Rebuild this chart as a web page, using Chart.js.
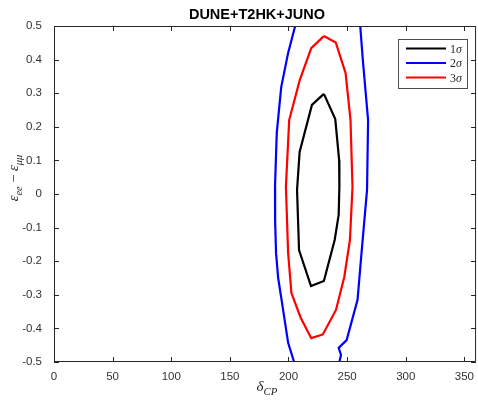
<!DOCTYPE html>
<html lang="en">
<head>
    <meta charset="UTF-8" />
    <title>DUNE+T2HK+JUNO</title>
    <style>
        html, body { margin: 0; padding: 0; overflow: hidden; background: #fff; }
        #wrap { width: 482px; height: 401px; }
    </style>
</head>
<body>
    <div id="wrap"><canvas id="contourChart" width="482" height="401"></canvas></div>

    <script src="https://cdn.jsdelivr.net/npm/chart.js@4.4.1/dist/chart.umd.min.js"></script>
    <script>
        // axis ticks
        const xTicks = [0, 50, 100, 150, 200, 250, 300, 350];
        const yTicks = [-0.5, -0.4, -0.3, -0.2, -0.1, 0, 0.1, 0.2, 0.3, 0.4, 0.5];

        // 1 sigma contour (closed)
        const sigma1Dcp = [230.2, 239.9, 243.2, 243.4, 242.8, 239.4, 230.2, 219.2, 209.0, 207.3, 209.5, 220.0, 230.2];
        const sigma1Eps = [0.298, 0.223, 0.101, 0.021, -0.062, -0.137, -0.259, -0.274, -0.167, 0.012, 0.125, 0.265, 0.298];

        // 2 sigma contour (open, left and right branch)
        const sigma2LeftDcp = [205.7, 199.7, 193.8, 190.0, 188.5, 188.6, 189.4, 191.2, 194.1, 199.7, 204.8];
        const sigma2LeftEps = [0.5, 0.420, 0.318, 0.182, 0.021, -0.080, -0.176, -0.250, -0.315, -0.443, -0.5];
        const sigma2RightDcp = [243.4, 244.8, 242.8, 249.6, 258.9, 262.5, 267.0, 267.9, 263.4, 261.2];
        const sigma2RightEps = [-0.5, -0.479, -0.458, -0.435, -0.315, -0.167, 0.012, 0.220, 0.399, 0.5];

        // 3 sigma contour (closed)
        const sigma3Dcp = [230.2, 240.3, 248.7, 252.9, 254.6, 252.4, 247.6, 240.5, 229.3, 219.4, 210.5, 202.5, 199.7, 197.8, 200.6, 209.6, 219.4, 230.2];
        const sigma3Eps = [0.470, 0.451, 0.360, 0.220, 0.021, -0.137, -0.247, -0.345, -0.418, -0.429, -0.369, -0.295, -0.176, 0.021, 0.220, 0.339, 0.434, 0.470];

        const toPoints = (xs, ys) => xs.map((x, i) => ({ x: x, y: ys[i] }));

        const sigma2Points = toPoints(sigma2LeftDcp, sigma2LeftEps)
            .concat([{ x: null, y: null }])
            .concat(toPoints(sigma2RightDcp, sigma2RightEps));

        const axisColor = '#262626';
        const sansFont = '"Liberation Sans", Arial, sans-serif';
        const serifFont = '"Liberation Serif", "Times New Roman", serif';

        // draws runs of text: [text, italic, sub]
        function drawMath(ctx, parts, x, y, size) {
            let cx = x;
            parts.forEach(p => {
                const fs = p[2] ? size * 0.72 : size;
                ctx.font = (p[1] ? 'italic ' : '') + fs + 'px ' + serifFont;
                ctx.fillText(p[0], cx, y + (p[2] ? size * 0.28 : 0));
                cx += ctx.measureText(p[0]).width;
            });
            return cx - x;
        }
        function mathWidth(ctx, parts, size) {
            let w = 0;
            parts.forEach(p => {
                const fs = p[2] ? size * 0.72 : size;
                ctx.font = (p[1] ? 'italic ' : '') + fs + 'px ' + serifFont;
                w += ctx.measureText(p[0]).width;
            });
            return w;
        }

        const matlabFrame = {
            id: 'matlabFrame',
            afterDraw(chart) {
                const ctx = chart.ctx;
                const a = chart.chartArea;
                const xs = chart.scales.x, ys = chart.scales.y;
                ctx.save();
                ctx.strokeStyle = axisColor;
                ctx.lineWidth = 1;
                ctx.beginPath();
                ctx.moveTo(a.left + 0.5, a.top + 0.5);
                ctx.lineTo(a.right - 0.5, a.top + 0.5);
                ctx.lineTo(a.right - 0.5, a.bottom - 0.5);
                ctx.lineTo(a.left + 0.5, a.bottom - 0.5);
                ctx.closePath();
                ctx.stroke();

                // inward ticks
                const tl = 5;
                ctx.beginPath();
                xTicks.forEach(v => {
                    const px = Math.round(xs.getPixelForValue(v)) + 0.5;
                    ctx.moveTo(px, a.bottom); ctx.lineTo(px, a.bottom - tl);
                    ctx.moveTo(px, a.top); ctx.lineTo(px, a.top + tl);
                });
                yTicks.forEach(v => {
                    const py = Math.round(ys.getPixelForValue(v)) + 0.5;
                    ctx.moveTo(a.left, py); ctx.lineTo(a.left + tl, py);
                    ctx.moveTo(a.right, py); ctx.lineTo(a.right - tl, py);
                });
                ctx.stroke();

                // title
                ctx.fillStyle = '#000';
                ctx.font = 'bold 14.5px ' + sansFont;
                ctx.textAlign = 'center';
                ctx.textBaseline = 'middle';
                ctx.fillText('DUNE+T2HK+JUNO', 257, 15);

                // x axis label
                ctx.fillStyle = '#262626';
                ctx.textAlign = 'left';
                ctx.textBaseline = 'alphabetic';
                const xl = [['δ', true, false], ['CP', true, true]];
                const xw = mathWidth(ctx, xl, 15);
                drawMath(ctx, xl, 267 - xw / 2, 391, 15);

                // y axis label
                const yl = [['ε', true, false], ['ee', true, true], [' − ', false, false], ['ε', true, false], ['μμ', true, true]];
                ctx.save();
                ctx.translate(18, 178);
                ctx.rotate(-Math.PI / 2);
                const yw = mathWidth(ctx, yl, 14.5);
                drawMath(ctx, yl, -yw / 2, 0, 14.5);
                ctx.restore();

                // legend
                const bx = 398.5, by = 39.5, bw = 69, bh = 49;
                ctx.fillStyle = '#fff';
                ctx.fillRect(bx, by, bw, bh);
                ctx.strokeStyle = '#4d4d4d';
                ctx.lineWidth = 1;
                ctx.strokeRect(bx, by, bw, bh);
                const rows = [48.5, 63, 77.5];
                chart.data.datasets.forEach((ds, i) => {
                    ctx.strokeStyle = ds.borderColor;
                    ctx.lineWidth = 2;
                    ctx.beginPath();
                    ctx.moveTo(406, rows[i]);
                    ctx.lineTo(446, rows[i]);
                    ctx.stroke();
                    ctx.fillStyle = '#262626';
                    ctx.textBaseline = 'middle';
                    drawMath(ctx, [[ds.label.charAt(0), false, false], [ds.label.slice(1), true, false]], 450, rows[i] + 1, 12);
                });
                ctx.restore();
            }
        };

        const ctx = document.getElementById('contourChart').getContext('2d');
        new Chart(ctx, {
            type: 'scatter',
            data: {
                datasets: [
                    { label: '1σ', data: toPoints(sigma1Dcp, sigma1Eps), borderColor: '#000000' },
                    { label: '2σ', data: sigma2Points, borderColor: '#0000ff' },
                    { label: '3σ', data: toPoints(sigma3Dcp, sigma3Eps), borderColor: '#ff0000' }
                ].map(d => Object.assign(d, {
                    showLine: true,
                    pointRadius: 0,
                    borderWidth: 2.2,
                    fill: false,
                    tension: 0,
                    spanGaps: false
                }))
            },
            options: {
                responsive: false,
                animation: false,
                devicePixelRatio: 1,
                layout: { padding: { top: 26, right: 2, left: 0, bottom: 0 } },
                plugins: {
                    legend: { display: false },
                    tooltip: { enabled: false }
                },
                scales: {
                    x: {
                        type: 'linear',
                        min: 0,
                        max: 360,
                        afterBuildTicks: s => { s.ticks = xTicks.map(v => ({ value: v })); },
                        afterFit: s => { s.height = 39; },
                        grid: { display: false, drawTicks: false },
                        border: { display: false },
                        ticks: {
                            padding: 8,
                            color: '#333333',
                            font: { family: sansFont, size: 11.5 },
                            maxRotation: 0,
                            autoSkip: false
                        }
                    },
                    y: {
                        type: 'linear',
                        min: -0.5,
                        max: 0.5,
                        afterBuildTicks: s => { s.ticks = yTicks.map(v => ({ value: v })); },
                        afterFit: s => { s.width = 54; },
                        grid: { display: false, drawTicks: false },
                        border: { display: false },
                        ticks: {
                            padding: 12,
                            color: '#333333',
                            font: { family: sansFont, size: 11.5 },
                            autoSkip: false,
                            callback: v => (v === 0 ? '0' : v.toFixed(1))
                        }
                    }
                }
            },
            plugins: [matlabFrame]
        });
    </script>
</body>
</html>
